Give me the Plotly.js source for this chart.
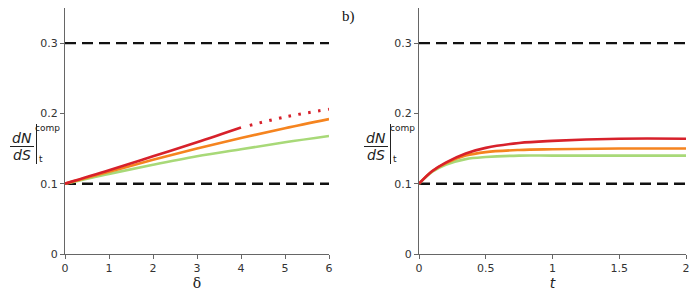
<!DOCTYPE html>
<html>
<head>
<meta charset="utf-8">
<script src="https://cdn.plot.ly/plotly-3.0.1.min.js"></script>
<style>html,body{margin:0;padding:0;background:#fff;}#chart{width:692px;height:293px;}</style>
</head>
<body>
<div id="chart"></div>
<script>
// Panel a: dN/dS (comp) against delta
const deltaSolid = [0, 1, 2, 3, 4];
const redSolid   = [0.100, 0.119, 0.139, 0.159, 0.180];
const deltaDot   = [4.2, 5, 6];
const redDot     = [0.183, 0.195, 0.206];
const delta      = [0, 1, 2, 3, 4, 5, 6];
const orangeA    = [0.100, 0.117, 0.134, 0.150, 0.165, 0.179, 0.192];
const greenA     = [0.100, 0.114, 0.127, 0.139, 0.149, 0.159, 0.168];

// Panel b: dN/dS (comp) against t
const tVals   = [0, 0.1, 0.2, 0.35, 0.5, 0.75, 1.0, 1.5, 2];
const redB    = [0.100, 0.118, 0.130, 0.143, 0.151, 0.158, 0.161, 0.164, 0.164];
const orangeB = [0.100, 0.118, 0.129, 0.140, 0.145, 0.148, 0.149, 0.150, 0.150];
const greenB  = [0.100, 0.117, 0.127, 0.135, 0.138, 0.140, 0.140, 0.140, 0.140];

// Reference levels
const levels = [0.1, 0.3];

const RED = '#d7212b', ORANGE = '#f5841f', GREEN = '#a8d978', DASH = '#111111';
const W = 692, H = 293;

function line(x, y, color, xa, ya, dash, width) {
  return {x: x, y: y, type: 'scatter', mode: 'lines', xaxis: xa, yaxis: ya,
          line: {color: color, width: width || 2.6, dash: dash || 'solid', shape: 'spline', smoothing: 1},
          hoverinfo: 'skip', showlegend: false};
}

const traces = [];
levels.forEach(v => {
  traces.push(line([0, 6], [v, v], DASH, 'x', 'y', '11px,6px', 2.4));
  traces.push(line([0, 2], [v, v], DASH, 'x2', 'y2', '11px,6px', 2.4));
});
traces.push(line(delta, greenA, GREEN, 'x', 'y'));
traces.push(line(delta, orangeA, ORANGE, 'x', 'y'));
traces.push(line(deltaSolid, redSolid, RED, 'x', 'y'));
traces.push(line(deltaDot, redDot, RED, 'x', 'y', '2.5px,7.5px', 3));
traces.push(line(tVals, greenB, GREEN, 'x2', 'y2'));
traces.push(line(tVals, orangeB, ORANGE, 'x2', 'y2'));
traces.push(line(tVals, redB, RED, 'x2', 'y2'));

const tickFont = {family: 'DejaVu Sans', size: 11, color: '#333'};
function xAxis(domain, range, dtick, anchor, title, italic) {
  return {domain: domain, range: range, dtick: dtick, tick0: 0, anchor: anchor,
          showgrid: false, zeroline: false, showline: true, linecolor: '#666', linewidth: 1,
          ticks: 'outside', ticklen: 4, tickcolor: '#666', tickfont: tickFont,
          title: {text: title, font: {family: italic ? 'DejaVu Sans' : 'DejaVu Serif', size: 14, color: '#222',
                  style: italic ? 'italic' : 'normal'}, standoff: 1}};
}
function yAxis(anchor) {
  return {domain: [1 - 254 / H, 1 - 8 / H], range: [0, 0.35], anchor: anchor,
          tickvals: [0, 0.1, 0.2, 0.3], ticktext: ['0', '0.1', '0.2', '0.3'],
          showgrid: false, zeroline: false, showline: true, linecolor: '#666', linewidth: 1,
          ticks: 'outside', ticklen: 4, tickcolor: '#666', tickfont: tickFont};
}

// fraction-style y label, placed relative to a panel's y-axis pixel position
const annotations = [];
const shapes = [];
function ylabel(axisPx) {
  const o = axisPx - 65;
  const fx = px => px / W, fy = py => 1 - py / H;
  const lab = (text, x, y, size, style) => annotations.push({
    text: text, x: fx(x + o), y: fy(y), xref: 'paper', yref: 'paper', showarrow: false,
    xanchor: 'center', yanchor: 'middle',
    font: {family: 'DejaVu Sans', size: size, color: '#222', style: style || 'normal'}});
  lab('dN', 22, 138, 14, 'italic');
  lab('dS', 22, 155, 14, 'italic');
  lab('comp', 48, 128, 9);
  lab('t', 41, 159, 9);
  shapes.push({type: 'line', xref: 'paper', yref: 'paper', x0: fx(10 + o), x1: fx(34 + o),
               y0: fy(146.5), y1: fy(146.5), line: {color: '#222', width: 1}});
  shapes.push({type: 'line', xref: 'paper', yref: 'paper', x0: fx(36.5 + o), x1: fx(36.5 + o),
               y0: fy(124), y1: fy(164), line: {color: '#222', width: 1}});
}
ylabel(65);
ylabel(419);

annotations.push({text: 'b)', x: 348 / W, y: 1 - 16 / H, xref: 'paper', yref: 'paper', showarrow: false,
                  xanchor: 'center', yanchor: 'middle',
                  font: {family: 'Liberation Serif', size: 15, color: '#111'}});

const layout = {
  width: W, height: H,
  margin: {l: 0, r: 0, t: 0, b: 0},
  paper_bgcolor: '#fff', plot_bgcolor: '#fff',
  showlegend: false,
  xaxis: xAxis([65 / W, 329 / W], [0, 6], 1, 'y', 'δ', false),
  yaxis: yAxis('x'),
  xaxis2: xAxis([419 / W, 686 / W], [0, 2], 0.5, 'y2', 't', true),
  yaxis2: yAxis('x2'),
  annotations: annotations,
  shapes: shapes
};

Plotly.newPlot('chart', traces, layout, {staticPlot: true, displayModeBar: false});
</script>
</body>
</html>
